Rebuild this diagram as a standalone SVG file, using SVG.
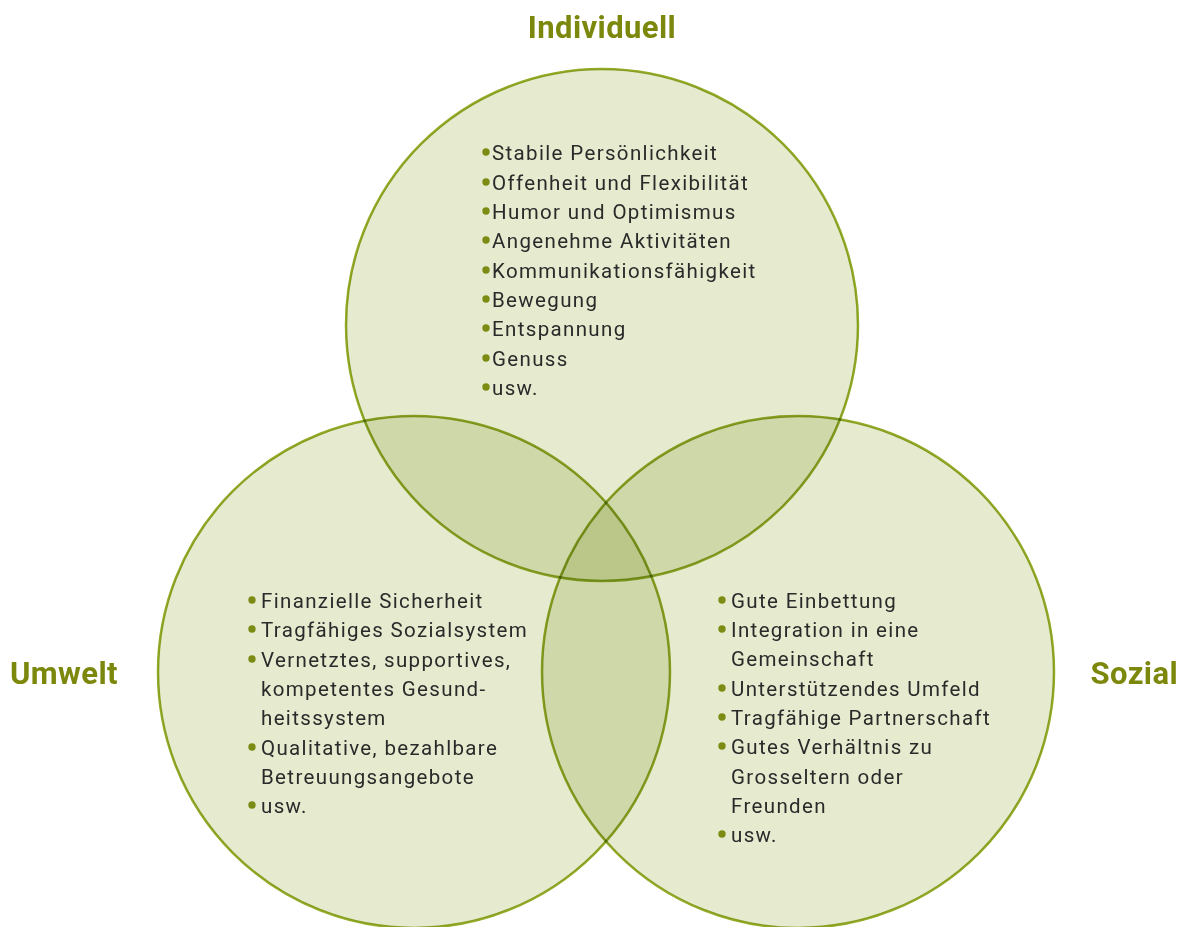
<svg xmlns="http://www.w3.org/2000/svg" width="1188" height="927" viewBox="0 0 1188 927">
<style>
.fill{fill:#e6ebcf;mix-blend-mode:multiply}
.ring{fill:none;stroke:#93ab26;stroke-width:2.5;mix-blend-mode:multiply}
.title{font-family:Roboto,"Liberation Sans",sans-serif;font-weight:bold;font-size:31px;fill:#7c880c;letter-spacing:0.4px}
.item{font-family:Roboto,"Liberation Sans",sans-serif;font-size:20.5px;fill:#2a2a2a;letter-spacing:1.35px}
.dot{fill:#7b8b14}
</style>
<rect x="0" y="0" width="1188" height="927" fill="#ffffff"/>
<g id="circles">
<circle class="fill" cx="602" cy="325" r="256"/>
<circle class="fill" cx="414" cy="672" r="256"/>
<circle class="fill" cx="798" cy="672" r="256"/>
<circle class="ring" cx="602" cy="325" r="256"/>
<circle class="ring" cx="414" cy="672" r="256"/>
<circle class="ring" cx="798" cy="672" r="256"/>
</g>
<g id="individuell">
<text class="title" x="602" y="38" text-anchor="middle">Individuell</text>
<g class="dot">
<circle cx="486" cy="152" r="3.7"/><circle cx="486" cy="182" r="3.7"/><circle cx="486" cy="211" r="3.7"/><circle cx="486" cy="240" r="3.7"/><circle cx="486" cy="270" r="3.7"/><circle cx="486" cy="299" r="3.7"/><circle cx="486" cy="328" r="3.7"/><circle cx="486" cy="358" r="3.7"/><circle cx="486" cy="387" r="3.7"/>
</g>
<text class="item" x="492" y="159.5">Stabile Persönlichkeit</text>
<text class="item" x="492" y="189.5">Offenheit und Flexibilität</text>
<text class="item" x="492" y="218.5">Humor und Optimismus</text>
<text class="item" x="492" y="247.5">Angenehme Aktivitäten</text>
<text class="item" x="492" y="277.5">Kommunikationsfähigkeit</text>
<text class="item" x="492" y="306.5">Bewegung</text>
<text class="item" x="492" y="335.5">Entspannung</text>
<text class="item" x="492" y="365.5">Genuss</text>
<text class="item" x="492" y="394.5">usw.</text>
</g>
<g id="umwelt">
<text class="title" x="10" y="684">Umwelt</text>
<g class="dot">
<circle cx="252" cy="600" r="3.7"/><circle cx="252" cy="629" r="3.7"/><circle cx="252" cy="659" r="3.7"/><circle cx="252" cy="747" r="3.7"/><circle cx="252" cy="805" r="3.7"/>
</g>
<text class="item" x="261" y="607.5">Finanzielle Sicherheit</text>
<text class="item" x="261" y="636.5">Tragfähiges Sozialsystem</text>
<text class="item" x="261" y="666.5">Vernetztes, supportives,</text>
<text class="item" x="261" y="695.5">kompetentes Gesund-</text>
<text class="item" x="261" y="724.5">heitssystem</text>
<text class="item" x="261" y="754.5">Qualitative, bezahlbare</text>
<text class="item" x="261" y="783.5">Betreuungsangebote</text>
<text class="item" x="261" y="812.5">usw.</text>
</g>
<g id="sozial">
<text class="title" x="1178" y="684" text-anchor="end">Sozial</text>
<g class="dot">
<circle cx="722" cy="600" r="3.7"/><circle cx="722" cy="629" r="3.7"/><circle cx="722" cy="688" r="3.7"/><circle cx="722" cy="717" r="3.7"/><circle cx="722" cy="746" r="3.7"/><circle cx="722" cy="834" r="3.7"/>
</g>
<text class="item" x="731" y="607.5">Gute Einbettung</text>
<text class="item" x="731" y="636.5">Integration in eine</text>
<text class="item" x="731" y="665.5">Gemeinschaft</text>
<text class="item" x="731" y="695.5">Unterstützendes Umfeld</text>
<text class="item" x="731" y="724.5">Tragfähige Partnerschaft</text>
<text class="item" x="731" y="753.5">Gutes Verhältnis zu</text>
<text class="item" x="731" y="783.5">Grosseltern oder</text>
<text class="item" x="731" y="812.5">Freunden</text>
<text class="item" x="731" y="841.5">usw.</text>
</g>
</svg>
